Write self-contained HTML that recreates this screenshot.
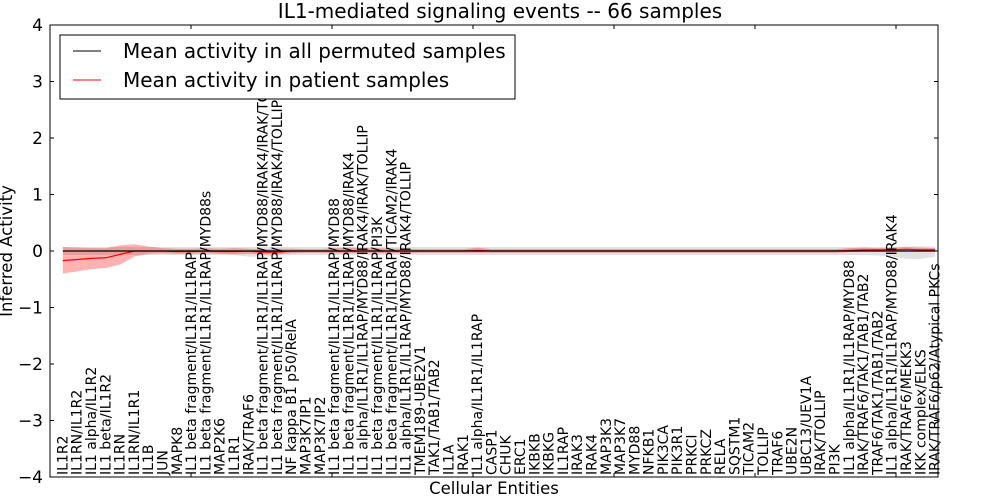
<!DOCTYPE html>
<html><head><meta charset="utf-8"><style>
body{margin:0;background:#fff;}
svg{display:block;font-family:"DejaVu Sans","Liberation Sans",sans-serif;}
</style></head><body>
<svg id="chart" width="1000" height="500">
<rect width="1000" height="500" fill="#fff"/>
<text x="500" y="18" font-size="20" text-anchor="middle">IL1-mediated signaling events -- 66 samples</text>
<g id="plot"></g>
</svg>
<script>
const labels=["IL1R2","IL1RN/IL1R2","IL1 alpha/IL1R2","IL1 beta/IL1R2","IL1RN","IL1RN/IL1R1","IL1B","JUN","MAPK8","IL1 beta fragment/IL1R1/IL1RAP","IL1 beta fragment/IL1R1/IL1RAP/MYD88s","MAP2K6","IL1R1","IRAK/TRAF6","IL1 beta fragment/IL1R1/IL1RAP/MYD88/IRAK4/IRAK/TOLLIP","IL1 beta fragment/IL1R1/IL1RAP/MYD88/IRAK4/TOLLIP","NF kappa B1 p50/RelA","MAP3K7IP1","MAP3K7IP2","IL1 beta fragment/IL1R1/IL1RAP/MYD88","IL1 beta fragment/IL1R1/IL1RAP/MYD88/IRAK4","IL1 alpha/IL1R1/IL1RAP/MYD88/IRAK4/IRAK/TOLLIP","IL1 beta fragment/IL1R1/IL1RAP/PI3K","IL1 beta fragment/IL1R1/IL1RAP/TICAM2/IRAK4","IL1 alpha/IL1R1/IL1RAP/MYD88/IRAK4/TOLLIP","TMEM189-UBE2V1","TAK1/TAB1/TAB2","IL1A","IRAK1","IL1 alpha/IL1R1/IL1RAP","CASP1","CHUK","ERC1","IKBKB","IKBKG","IL1RAP","IRAK3","IRAK4","MAP3K3","MAP3K7","MYD88","NFKB1","PIK3CA","PIK3R1","PRKCI","PRKCZ","RELA","SQSTM1","TICAM2","TOLLIP","TRAF6","UBE2N","UBC13/UEV1A","IRAK/TOLLIP","PI3K","IL1 alpha/IL1R1/IL1RAP/MYD88","IRAK/TRAF6/TAK1/TAB1/TAB2","TRAF6/TAK1/TAB1/TAB2","IL1 alpha/IL1R1/IL1RAP/MYD88/IRAK4","IRAK/TRAF6/MEKK3","IKK complex/ELKS","IRAK/TRAF6/p62/Atypical PKCs"];
const patientMean=[-0.17,-0.15,-0.13,-0.12,-0.06,0,0,0,-0.01,-0.01,0,-0.01,-0.01,0,-0.02,-0.02,0,0,0,0,0,0,0,0,0,0,0,0,0,0.01,0,0,0,0,0,0,0,0,0,0,0,0,0,0,0,0,0,0,0,0,0,0,0,0,0,0.01,0.02,0.02,0.02,0.03,0.02,0.02];
const patientUpper=[0.07,0.06,0.05,0.05,0.1,0.12,0.08,0.05,0.04,0.04,0.05,0.04,0.05,0.04,0.03,0.04,0.04,0.03,0.03,0.05,0.06,0.05,0.05,0.04,0.04,0.03,0.03,0.03,0.03,0.06,0.03,0.03,0.03,0.03,0.03,0.03,0.03,0.03,0.03,0.03,0.03,0.03,0.03,0.03,0.03,0.03,0.03,0.03,0.03,0.03,0.03,0.03,0.03,0.03,0.03,0.05,0.06,0.05,0.06,0.07,0.06,0.05];
const patientLower=[-0.4,-0.36,-0.32,-0.3,-0.24,-0.1,-0.05,-0.04,-0.05,-0.05,-0.04,-0.05,-0.06,-0.05,-0.06,-0.06,-0.04,-0.03,-0.03,-0.04,-0.04,-0.04,-0.04,-0.04,-0.04,-0.03,-0.03,-0.03,-0.03,-0.03,-0.03,-0.03,-0.03,-0.03,-0.03,-0.03,-0.03,-0.03,-0.03,-0.03,-0.03,-0.03,-0.03,-0.03,-0.03,-0.03,-0.03,-0.03,-0.03,-0.03,-0.03,-0.03,-0.03,-0.03,-0.03,-0.02,-0.01,-0.01,-0.01,-0.01,-0.01,-0.01];
const permMean=[0,0,0,0,0,0,0,0,0,0,0,0,0,0,0,0,0,0,0,0,0,0,0,0,0,0,0,0,0,0,0,0,0,0,0,0,0,0,0,0,0,0,0,0,0,0,0,0,0,0,0,0,0,0,0,0,0,0,0,0,0,0];
const permUpper=[0.07,0.07,0.07,0.07,0.07,0.07,0.07,0.07,0.07,0.07,0.07,0.07,0.07,0.07,0.07,0.07,0.07,0.07,0.07,0.07,0.07,0.07,0.07,0.07,0.07,0.07,0.07,0.07,0.07,0.07,0.07,0.07,0.07,0.07,0.07,0.07,0.07,0.07,0.07,0.07,0.07,0.07,0.07,0.07,0.07,0.07,0.07,0.07,0.07,0.07,0.07,0.07,0.07,0.07,0.07,0.07,0.07,0.07,0.07,0.08,0.08,0.08];
const permLower=[-0.07,-0.07,-0.07,-0.07,-0.07,-0.07,-0.07,-0.07,-0.07,-0.07,-0.07,-0.07,-0.07,-0.1,-0.1,-0.08,-0.07,-0.07,-0.07,-0.07,-0.07,-0.07,-0.07,-0.07,-0.07,-0.07,-0.07,-0.07,-0.07,-0.07,-0.07,-0.07,-0.07,-0.07,-0.07,-0.07,-0.07,-0.07,-0.07,-0.07,-0.07,-0.07,-0.07,-0.07,-0.07,-0.07,-0.07,-0.07,-0.07,-0.07,-0.07,-0.07,-0.07,-0.07,-0.07,-0.07,-0.07,-0.08,-0.1,-0.14,-0.14,-0.1];
const yTicks=[-4,-3,-2,-1,0,1,2,3,4];
const xTicks=[0,10,20,30,40,50,60];

const L=50,R=938,T=25,B=477,XMIN=0.1,XMAX=62.2,YMIN=-4,YMAX=4;
const xs=v=>L+(v-XMIN)/(XMAX-XMIN)*(R-L);
const ys=v=>B-(v-YMIN)/(YMAX-YMIN)*(B-T);
const NS="http://www.w3.org/2000/svg";
const g=document.getElementById('plot');
function mk(t,a,p){const e=document.createElementNS(NS,t);for(const k in a)e.setAttribute(k,a[k]);(p||g).appendChild(e);return e;}
function band(up,lo,fill,op,name){
  let d="";up.forEach((v,i)=>{d+=(i?"L":"M")+xs(i+1)+","+ys(v);});
  for(let i=lo.length-1;i>=0;i--)d+="L"+xs(i+1)+","+ys(lo[i]);
  const e=mk('path',{d:d+"Z",fill:fill,'fill-opacity':op,stroke:'none'});
  
  
}
function line(arr,col,name){
  const e=mk('polyline',{points:arr.map((v,i)=>xs(i+1)+","+ys(v)).join(" "),fill:'none',stroke:col,'stroke-width':1.2});
  
  
}
band(permUpper,permLower,'#aaa',0.35,'permuted-band');
band(patientUpper,patientLower,'#f00',0.3,'patient-band');
line(patientMean,'#f00','patient-mean-line');
line(permMean,'#000','permuted-mean-line');
labels.forEach((s,i)=>{
  const x=xs(i+1)+4.5,y=B-2;
  const t=mk('text',{x:0,y:0,'font-size':14,'text-anchor':'start',transform:`translate(${x},${y}) rotate(-90)`});
  t.textContent=s;
  
  
});
const fr=mk('rect',{x:L,y:T,width:R-L,height:B-T,fill:'none',stroke:'#000','stroke-width':1});


yTicks.forEach(v=>{
  mk('line',{x1:L,x2:L+4,y1:ys(v),y2:ys(v),stroke:'#000'});
  mk('line',{x1:R,x2:R-4,y1:ys(v),y2:ys(v),stroke:'#000'});
  const t=mk('text',{x:L-7,y:ys(v)+6,'font-size':17,'text-anchor':'end'});
  t.textContent=(v<0?"\u2212"+(-v):v);
  
  
});
xTicks.forEach(v=>{
  const px=L+v*14.1;
  mk('line',{x1:px,x2:px,y1:B,y2:B-4,stroke:'#000'});
  mk('line',{x1:px,x2:px,y1:T,y2:T+4,stroke:'#000'});
});
let t=mk('text',{x:0,y:0,'font-size':16.5,'text-anchor':'middle',transform:`translate(12,${(T+B)/2}) rotate(-90)`});
t.textContent="Inferred Activity";


t=mk('text',{x:(L+R)/2,y:494,'font-size':16.5,'text-anchor':'middle'});
t.textContent="Cellular Entities";


const lg=mk('g',{});


mk('rect',{x:60,y:35,width:455,height:64,fill:'#fff',stroke:'#000'},lg);
mk('line',{x1:73,x2:101,y1:51,y2:51,stroke:'#000'},lg);
mk('line',{x1:73,x2:101,y1:80,y2:80,stroke:'#f00'},lg);
t=mk('text',{x:123,y:58,'font-size':20},lg);t.textContent="Mean activity in all permuted samples";


t=mk('text',{x:123,y:87,'font-size':20},lg);t.textContent="Mean activity in patient samples";


</script>
</body></html>
